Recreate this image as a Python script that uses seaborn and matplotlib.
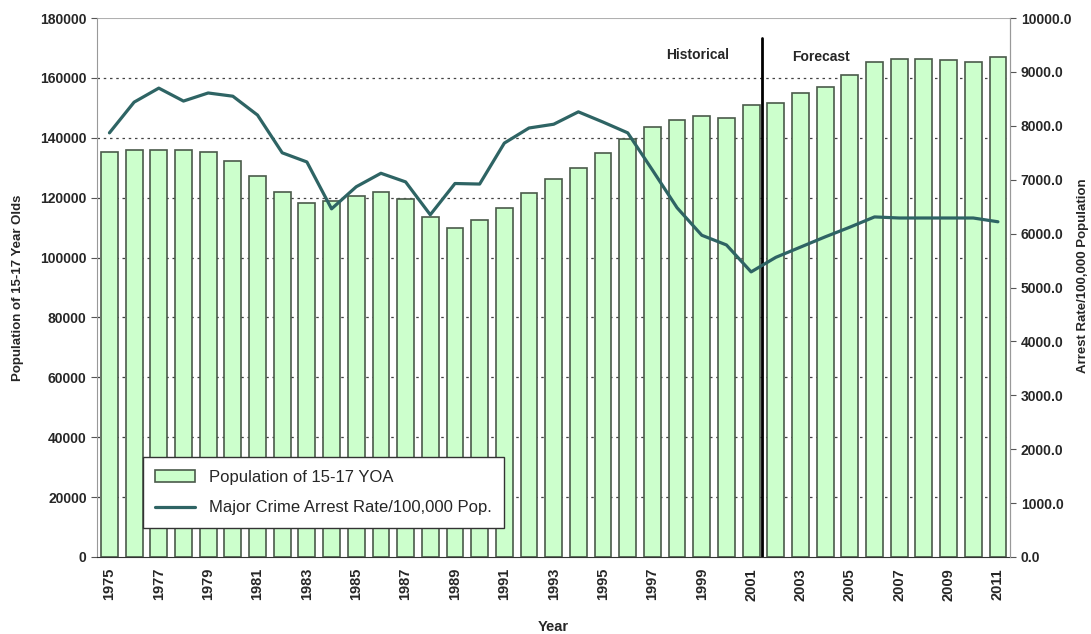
import numpy as np
import pandas as pd
import matplotlib
matplotlib.use("Agg")
from matplotlib import pyplot as plt
import seaborn as sns

years = list(range(1975, 2012))
population = [135200, 135900, 135900, 135900, 135200, 132200, 127200, 121900,
              118200, 118900, 120600, 121900, 119600, 113500, 109900, 112500,
              116500, 121700, 126200, 129900, 134900, 139600, 143600, 145900,
              147300, 146600, 150900, 151700, 154900, 157000, 161000, 165300,
              166200, 166200, 166100, 165300, 167000]
arrest_rate = [7870, 8440, 8700, 8460, 8610, 8550, 8200, 7500, 7330, 6460,
               6870, 7120, 6960, 6350, 6930, 6920, 7680, 7960, 8030, 8260,
               8070, 7870, 7180, 6480, 5970, 5790, 5290, 5560, 5750, 5940,
               6120, 6310, 6290, 6290, 6290, 6290, 6220]

bar_label = "Population of 15-17 YOA"
line_label = "Major Crime Arrest Rate/100,000 Pop."

df = pd.DataFrame({"year": [str(y) for y in years], "pop": population,
                   "rate": arrest_rate, "pos": np.arange(len(years))})

sns.set_style("white")
plt.rcParams['font.family'] = ['Liberation Sans', 'DejaVu Sans']

fig = plt.figure(figsize=(10.91, 6.34), dpi=100)
ax = fig.add_axes([0.089, 0.1215, 0.837, 0.85])

for v in range(20000, 180000, 20000):
    ax.axhline(v, color="#444444", lw=0.9, ls=(0, (2, 3)), zorder=0)
ax.axhline(180000, color="#b0b0b0", lw=1.5, zorder=0)

sns.barplot(data=df, x="year", y="pop", color="#ccffcc", saturation=1,
            edgecolor="#4a5a4a", linewidth=1.2, width=0.68, ax=ax,
            label=bar_label, zorder=2)
if ax.get_legend() is not None:
    ax.get_legend().remove()
ax.set_ylim(0, 180000)
ax.set_xlim(-0.5, len(years) - 0.5)
ax.set_yticks(np.arange(0, 180001, 20000))
ax.set_yticklabels([str(v) for v in range(0, 180001, 20000)],
                   fontsize=10, fontweight="bold")

ax.set_xticks(np.arange(0, len(years), 2))
ax.set_xticklabels([str(y) for y in years[::2]], rotation=90,
                   fontsize=10.5, fontweight="bold")
ax.set_xticks(np.arange(-0.5, len(years), 1), minor=True)
ax.tick_params(axis="x", which="major", length=0, pad=8)
ax.tick_params(axis="x", which="minor", length=4, color="#555555")
ax.tick_params(axis="y", length=4, color="#555555", left=True)
ax.set_xlabel("Year", fontsize=10.5, fontweight="bold", labelpad=14)
ax.set_ylabel("Population of 15-17 Year Olds", fontsize=9.5,
              fontweight="bold", labelpad=12)
for s in ["left", "right"]:
    ax.spines[s].set_color("#999999")
ax.spines["bottom"].set_color("#333333")
ax.spines["top"].set_visible(False)

ax2 = ax.twinx()
sns.lineplot(data=df, x="pos", y="rate", color="#2e6464", lw=2.3, ax=ax2,
             label=line_label, legend=False)
ax2.set_ylim(0, 10000)
ax2.set_xlim(-0.5, len(years) - 0.5)
ax2.set_yticks(np.arange(0, 10001, 1000))
ax2.set_yticklabels([f"{v:.1f}" for v in range(0, 10001, 1000)],
                    fontsize=10, fontweight="bold")
ax2.tick_params(axis="y", length=4, color="#555555", right=True)
ax2.set_ylabel("")
fig.text(0.9925, 0.565, "Arrest Rate/100,000 Population", rotation=90,
         ha="center", va="center", fontsize=9.5, fontweight="bold")
for s in ["left", "top", "bottom"]:
    ax2.spines[s].set_visible(False)
ax2.spines["right"].set_color("#999999")

# historical / forecast markers
split = 26.45
ax.annotate("", xy=(len(years) - 0.45, 173300), xytext=(-0.55, 173300),
            arrowprops=dict(arrowstyle="<|-|>", color="black", lw=2.5,
                            mutation_scale=22), zorder=5)
ax.plot([split, split], [0, 173300], color="black", lw=2, zorder=5)
ax.text(split - 1.35, 167500, "Historical", ha="right", va="center",
        fontsize=10, fontweight="bold")
ax.text(split + 1.2, 167000, "Forecast", ha="left", va="center",
        fontsize=10, fontweight="bold")

h1, l1 = ax.get_legend_handles_labels()
h2, l2 = ax2.get_legend_handles_labels()
leg = ax2.legend(h1 + h2, l1 + l2, loc="lower left",
                 bbox_to_anchor=(0.05, 0.054), borderaxespad=0,
                 fontsize=12, frameon=True, fancybox=False,
                 edgecolor="#333333", borderpad=0.75, labelspacing=0.95,
                 handlelength=2.4, framealpha=1)
leg.get_frame().set_linewidth(1.0)

fig.savefig("out.png", dpi=100)
